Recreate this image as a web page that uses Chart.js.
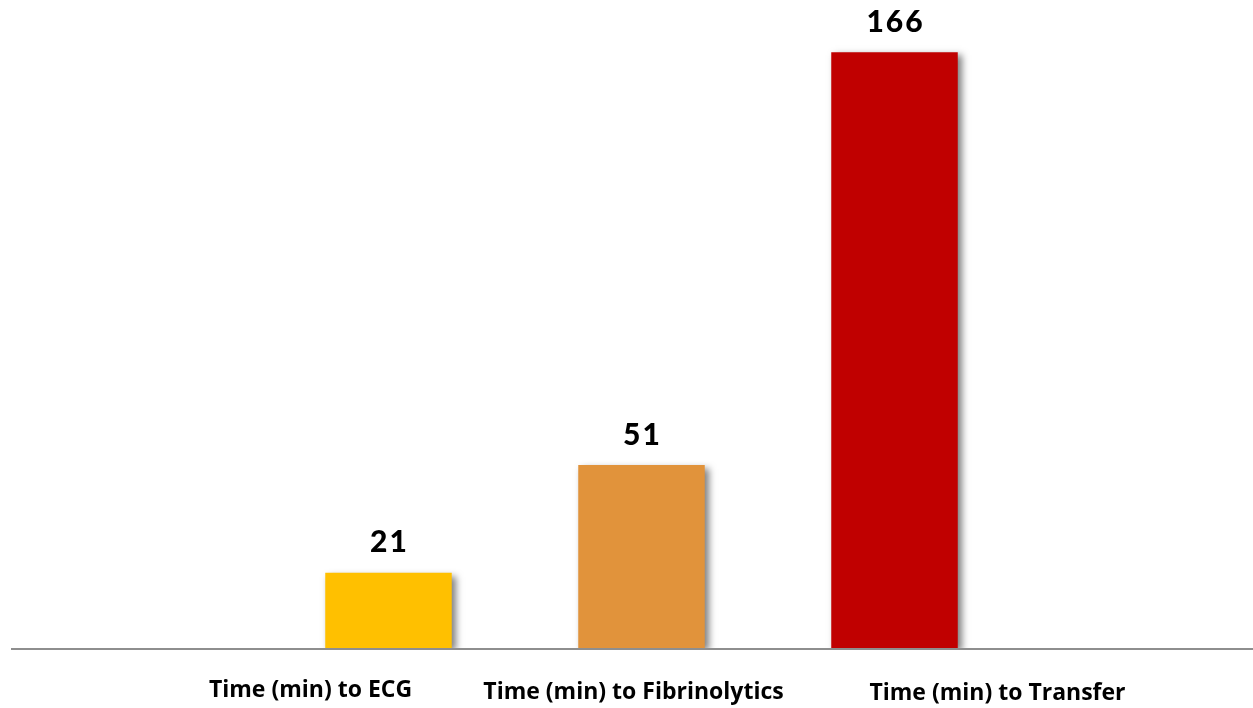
<!DOCTYPE html>
<html>
<head>
<meta charset="utf-8">
<script src="https://cdn.jsdelivr.net/npm/chart.js@4.4.1/dist/chart.umd.min.js"></script>
<style>
  html, body { margin: 0; padding: 0; background: #ffffff; }
  #wrap { position: relative; width: 1253px; height: 708px; }
</style>
</head>
<body>
<div id="wrap"><canvas id="chart" width="1253" height="708"></canvas></div>
<script>
// Median times along the care pathway, in minutes
const categories = ['Time (min) to ECG', 'Time (min) to Fibrinolytics', 'Time (min) to Transfer'];
const minutes = [21, 51, 166];
const barColors = ['#FFC000', '#E1933B', '#C00000'];

// Horizontal nudge of each category caption relative to its bar centre (px)
const captionShift = [-78, -8, 103];
const captionDrop = [42, 44, 45];

const barShadow = {
  id: 'barShadow',
  beforeDatasetsDraw(chart) {
    const ctx = chart.ctx;
    ctx.save();
    ctx.shadowColor = 'rgba(0,0,0,0.5)';
    ctx.shadowBlur = 7;
    ctx.shadowOffsetX = 4;
    ctx.shadowOffsetY = 3;
  },
  afterDatasetsDraw(chart) {
    chart.ctx.restore();
  }
};

const baseline = {
  id: 'baseline',
  afterDatasetsDraw(chart) {
    const ctx = chart.ctx;
    const y = chart.scales.y.getPixelForValue(0);
    ctx.save();
    ctx.strokeStyle = '#8E8E8E';
    ctx.lineWidth = 2;
    ctx.beginPath();
    ctx.moveTo(11, y + 1);
    ctx.lineTo(chart.width, y + 1);
    ctx.stroke();
    ctx.restore();
  }
};

const valueAndCaptions = {
  id: 'valueAndCaptions',
  afterDraw(chart) {
    const ctx = chart.ctx;
    const meta = chart.getDatasetMeta(0);
    const yZero = chart.scales.y.getPixelForValue(0);
    ctx.save();
    ctx.fillStyle = '#000000';
    ctx.textAlign = 'center';
    ctx.textBaseline = 'middle';
    meta.data.forEach((bar, i) => {
      ctx.font = '900 30px Lato, "DejaVu Sans", sans-serif';
      ctx.letterSpacing = '2px';
      ctx.fillText(String(minutes[i]), bar.x + 1, bar.y - 30);
      ctx.letterSpacing = '0px';
      ctx.font = 'bold 23px "Open Sans", "Liberation Sans", sans-serif';
      ctx.fillText(categories[i], bar.x + captionShift[i], yZero + captionDrop[i]);
    });
    ctx.restore();
  }
};

new Chart(document.getElementById('chart'), {
  type: 'bar',
  data: {
    labels: categories,
    datasets: [{
      data: minutes,
      backgroundColor: barColors,
      borderWidth: 0,
      barPercentage: 0.5,
      categoryPercentage: 1.0
    }]
  },
  options: {
    responsive: false,
    animation: false,
    layout: { padding: { left: 262, right: 232, top: 2, bottom: 60 } },
    plugins: { legend: { display: false }, tooltip: { enabled: false } },
    scales: {
      x: {
        display: false,
        grid: { display: false }
      },
      y: {
        display: false,
        min: 0,
        max: 180,
        grid: { display: false }
      }
    }
  },
  plugins: [barShadow, baseline, valueAndCaptions]
});
</script>
</body>
</html>
